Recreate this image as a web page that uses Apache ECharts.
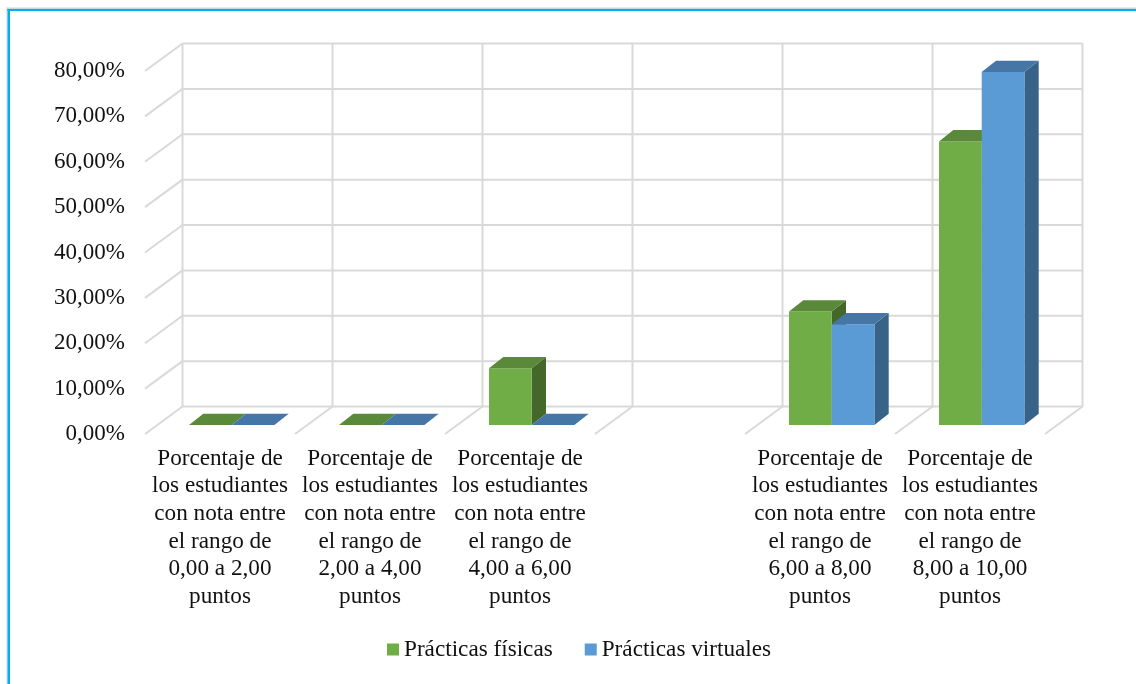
<!DOCTYPE html>
<html>
<head>
<meta charset="utf-8">
<style>html,body{margin:0;padding:0;background:#fff}#c{width:1136px;height:684px}</style>
<script src="https://cdn.jsdelivr.net/npm/echarts@6/dist/echarts.min.js"></script>
</head>
<body>
<div id="c"></div>
<script>
var categories = [
  'Porcentaje de\nlos estudiantes\ncon nota entre\nel rango de\n0,00 a 2,00\npuntos',
  'Porcentaje de\nlos estudiantes\ncon nota entre\nel rango de\n2,00 a 4,00\npuntos',
  'Porcentaje de\nlos estudiantes\ncon nota entre\nel rango de\n4,00 a 6,00\npuntos',
  '',
  'Porcentaje de\nlos estudiantes\ncon nota entre\nel rango de\n6,00 a 8,00\npuntos',
  'Porcentaje de\nlos estudiantes\ncon nota entre\nel rango de\n8,00 a 10,00\npuntos'
];
var fisicas = [0, 0, 12.5, null, 25, 62.5];
var virtuales = [0, 0, 0, null, 22.22, 77.78];
var yTicks = [0, 10, 20, 30, 40, 50, 60, 70, 80];

var WALL_DX = 37.5, WALL_DY = -27.5;
var BAR_DX = 11.7, BAR_DY = -9;
var SIDE_DX = 14.3, SIDE_DY = -11.3;
var BAR_RATIO = 42.7 / 150;
var GRID_COLOR = '#d9d9d9';
var FONT = '"Liberation Serif", "Times New Roman", serif';

function wallItem(params, api) {
  var band = api.size([1, 0])[0];
  var kids = [];
  var style = { stroke: GRID_COLOR, lineWidth: 2, fill: null };
  function line(x1, y1, x2, y2) {
    kids.push({ type: 'line', shape: { x1: x1, y1: y1, x2: x2, y2: y2 }, style: style });
  }
  var left = api.coord([0, 0])[0] - band / 2;
  var n = categories.length;
  yTicks.forEach(function (t) {
    var y = api.coord([0, t])[1];
    line(left, y, left + WALL_DX, y + WALL_DY);
    line(left + WALL_DX, y + WALL_DY, left + WALL_DX + band * n, y + WALL_DY);
  });
  var y0 = api.coord([0, 0])[1];
  var yTop = api.coord([0, yTicks[yTicks.length - 1]])[1];
  for (var i = 0; i <= n; i++) {
    var x = left + band * i;
    line(x + WALL_DX, y0 + WALL_DY, x + WALL_DX, yTop + WALL_DY);
    if (i > 0) line(x, y0, x + WALL_DX, y0 + WALL_DY);
  }
  return { type: 'group', children: kids };
}

function barItem(colors, side) {
  return function (params, api) {
    var v = api.value(1);
    if (v === null || isNaN(v)) return null;
    var c = api.coord([api.value(0), v]);
    var base = api.coord([api.value(0), 0]);
    var w = api.size([1, 0])[0] * BAR_RATIO;
    var x1 = c[0] + BAR_DX + (side === 0 ? -w : 0);
    var x2 = x1 + w;
    var yT = c[1] + BAR_DY;
    var yB = base[1] + BAR_DY;
    var kids = [];
    if (v > 0) {
      kids.push({ type: 'polygon', shape: { points: [[x2, yT], [x2 + SIDE_DX, yT + SIDE_DY], [x2 + SIDE_DX, yB + SIDE_DY], [x2, yB]] }, style: { fill: colors[2] } });
      kids.push({ type: 'rect', shape: { x: x1, y: yT, width: w, height: yB - yT }, style: { fill: colors[0] } });
    }
    kids.push({ type: 'polygon', shape: { points: [[x1, yT], [x2, yT], [x2 + SIDE_DX, yT + SIDE_DY], [x1 + SIDE_DX, yT + SIDE_DY]] }, style: { fill: colors[1] } });
    return { type: 'group', children: kids };
  };
}

function pairs(arr) {
  return arr.map(function (v, i) { return [i, v]; });
}

var chart = echarts.init(document.getElementById('c'), null, { renderer: 'canvas' });
chart.setOption({
  animation: false,
  color: ['#70AD47', '#5B9BD5'],
  graphic: [
    { type: 'rect', shape: { x: 6.5, y: 7.5, width: 1130, height: 1.5 }, style: { fill: '#c9d6dc' } },
    { type: 'rect', shape: { x: 6.5, y: 7.5, width: 1, height: 677 }, style: { fill: '#c9d6dc' } },
    { type: 'rect', shape: { x: 7.5, y: 9, width: 1129, height: 2 }, style: { fill: '#00B0F0' } },
    { type: 'rect', shape: { x: 7.5, y: 9, width: 2.5, height: 675 }, style: { fill: '#00B0F0' } }
  ],
  legend: {
    left: 387, top: 638, padding: 0, itemWidth: 12, itemHeight: 12, itemGap: 32,
    icon: 'rect',
    data: ['Prácticas físicas', 'Prácticas virtuales'],
    textStyle: { fontFamily: FONT, fontSize: 23.2, color: '#111' }
  },
  grid: { left: 145, width: 900, top: 71, height: 363 },
  xAxis: {
    type: 'category', data: categories,
    axisLine: { show: false }, axisTick: { show: false }, splitLine: { show: false },
    axisLabel: { interval: 0, margin: 11, fontFamily: FONT, fontSize: 23.2, lineHeight: 27.6, color: '#111', align: 'center', verticalAlign: 'top' }
  },
  yAxis: {
    type: 'value', min: 0, max: 80, interval: 10,
    axisLine: { show: false }, axisTick: { show: false }, splitLine: { show: false },
    axisLabel: { margin: 20, padding: [4, 0, 0, 0], verticalAlign: 'middle', fontFamily: FONT, fontSize: 23, color: '#111',
      formatter: function (v) { return v.toFixed(2).replace('.', ',') + '%'; } }
  },
  series: [
    { type: 'custom', silent: true, z: 1, clip: false, data: [[0, 0]], renderItem: wallItem, encode: { x: 0, y: 1 } },
    { type: 'custom', name: 'Prácticas físicas', z: 2, clip: false, data: pairs(fisicas), encode: { x: 0, y: 1 },
      itemStyle: { color: '#70AD47' }, renderItem: barItem(['#70AD47', '#5A8A39', '#436829'], 0) },
    { type: 'custom', name: 'Prácticas virtuales', z: 3, clip: false, data: pairs(virtuales), encode: { x: 0, y: 1 },
      itemStyle: { color: '#5B9BD5' }, renderItem: barItem(['#5B9BD5', '#4676A5', '#376389'], 1) }
  ]
});
</script>
</body>
</html>
